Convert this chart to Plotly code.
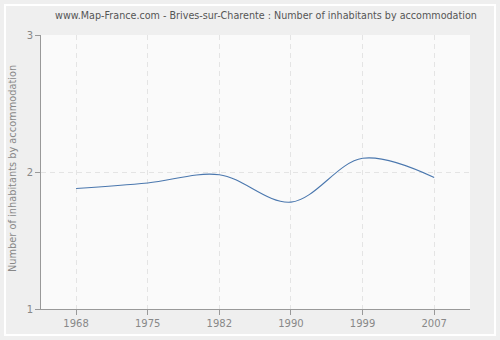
import plotly.graph_objects as go

years = ["1968", "1975", "1982", "1990", "1999", "2007"]
values = [1.88, 1.92, 1.98, 1.78, 2.10, 1.96]
y_ticks = [1, 2, 3]

fig = go.Figure()
fig.add_trace(go.Scatter(
    x=years, y=values, mode="lines",
    line=dict(color="#4a77ae", width=1.1, shape="spline", smoothing=1.0),
    hoverinfo="x+y",
))

fig.add_shape(type="rect", xref="paper", yref="paper",
              x0=-36/429, x1=1 + 25/429, y0=-26/274, y1=1 + 30/274,
              line=dict(color="#ffffff", width=2), layer="below")

fig.add_annotation(text="Number of inhabitants by accommodation",
                   xref="paper", yref="paper", x=(12 - 41) / 429, y=(309 - 169) / 274,
                   xanchor="center", yanchor="middle", textangle=-90, showarrow=False,
                   font=dict(size=9.8, color="#888888"))

fig.update_layout(
    width=500, height=340,
    margin=dict(l=41, r=30, t=35, b=31),
    paper_bgcolor="#efefef",
    plot_bgcolor="#fafafa",
    font=dict(family="DejaVu Sans", size=10, color="#888888"),
    title=dict(text="www.Map-France.com - Brives-sur-Charente : Number of inhabitants by accommodation",
               x=0.532, xanchor="center", y=0.955, yanchor="middle",
               font=dict(size=9.6, color="#555555")),
    showlegend=False,
    xaxis=dict(type="category", range=[-0.49, 5.5], automargin=False,
               showgrid=True, gridcolor="#e4e4e4", griddash="5px,4px", gridwidth=1,
               showline=True, linecolor="#999999", linewidth=1,
               ticks="outside", ticklen=5, tickcolor="#999999",
               tickfont=dict(size=10, color="#888888"), zeroline=False),
    yaxis=dict(range=[1, 3], tickvals=y_ticks, automargin=False,
               showgrid=True, gridcolor="#e4e4e4", griddash="5px,4px", gridwidth=1,
               showline=True, linecolor="#999999", linewidth=1,
               ticks="outside", ticklen=5, tickcolor="#999999",
               tickfont=dict(size=10, color="#888888"), zeroline=False),
)

fig.write_html("out.html")
